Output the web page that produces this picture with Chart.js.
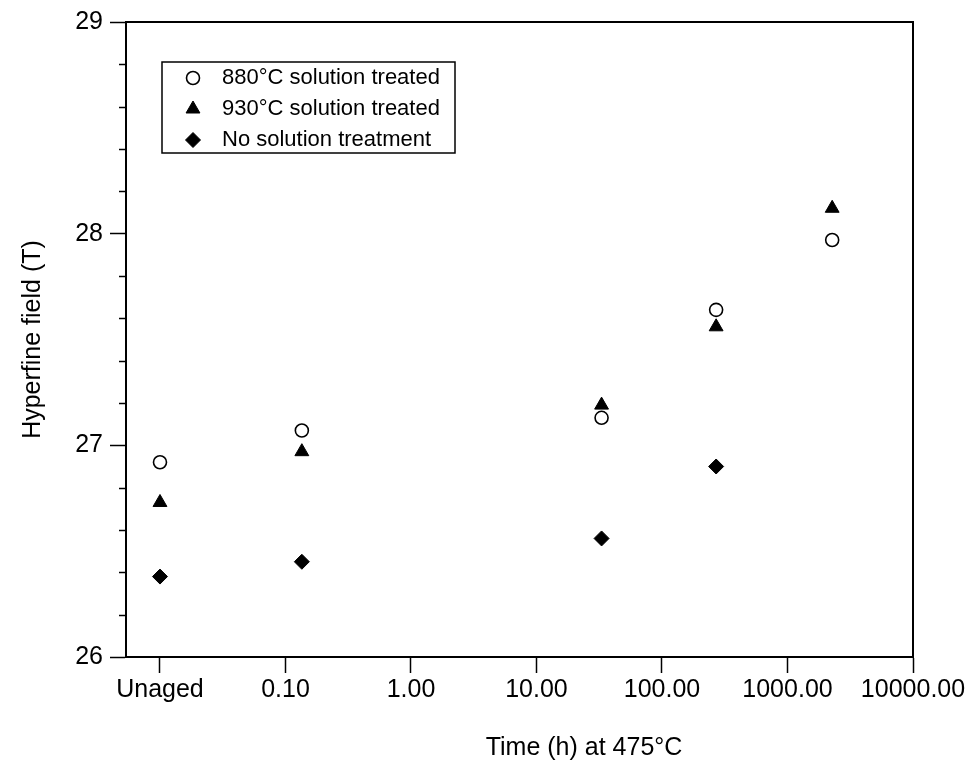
<!DOCTYPE html>
<html>
<head>
<meta charset="utf-8">
<title>Hyperfine field vs ageing time at 475°C</title>
<script src="https://cdn.jsdelivr.net/npm/chart.js@4.4.0/dist/chart.umd.min.js"></script>
<style>
  html, body { margin: 0; padding: 0; background: #fff; }
  #wrap { width: 976px; height: 777px; }
</style>
</head>
<body>
<div id="wrap"><canvas id="myChart" width="976" height="777"></canvas></div>
<script>
// "Unaged" samples sit on the first tick, which is placed at 0.01 h on the log axis
var xTickValues = [0.01, 0.1, 1, 10, 100, 1000, 10000];
var xTickLabels = ['Unaged', '0.10', '1.00', '10.00', '100.00', '1000.00', '10000.00'];

var agingTimes = [0.01, 0.135, 33, 270, 2270];
var field880 = [26.92, 27.07, 27.13, 27.64, 27.97];
var field930 = [26.73, 26.97, 27.19, 27.56, 28.12];
var fieldNoSolution = [26.38, 26.45, 26.56, 26.90];

var seriesNames = ['880°C solution treated', '930°C solution treated', 'No solution treatment'];
var xTitle = 'Time (h) at 475°C';
var yTitle = 'Hyperfine field (T)';

var yMin = 26, yMax = 29, yMinorStep = 0.2;
var xMin = 0.00536, xMax = 10000;

var ink = '#000';
var fontFamily = "'Liberation Sans', Arial, Helvetica, sans-serif";

function toPoints(xs, ys){
  var pts = [];
  for(var i = 0; i < ys.length; i++){
    pts.push({x: xs[i], y: ys[i]});
  }
  return pts;
}

/*
  box round the plot area, short minor ticks on the y axis,
  and the x title (it sits right of the axis centre in the original)
*/
var frameAndMinorTicks = {
  id: 'frameAndMinorTicks',
  afterDraw: function(chart){
    var c = chart.ctx, a = chart.chartArea, ys = chart.scales.y;
    c.save();
    c.strokeStyle = ink;
    c.lineWidth = 2;
    c.beginPath();
    c.moveTo(a.left, a.top);
    c.lineTo(a.right, a.top);
    c.lineTo(a.right, a.bottom);
    c.stroke();

    c.lineWidth = 1.5;
    for(var v = yMin + yMinorStep; v < yMax - 0.01; v += yMinorStep){
      if(Math.abs(v - Math.round(v)) < 0.01) continue;
      var py = Math.round(ys.getPixelForValue(v)) + 0.5;
      c.beginPath();
      c.moveTo(a.left - 7, py);
      c.lineTo(a.left, py);
      c.stroke();
    }

    c.fillStyle = ink;
    c.font = '25px ' + fontFamily;
    c.textAlign = 'center';
    c.textBaseline = 'middle';
    c.fillText(xTitle, a.left + 0.582 * (a.right - a.left), 748);
    c.restore();
  }
};

/*
  legend drawn in a box inside the plot, like the original figure
*/
var boxLegend = {
  id: 'boxLegend',
  afterDatasetsDraw: function(chart){
    var c = chart.ctx, a = chart.chartArea;
    var left = a.left + 36, top = a.top + 40, w = 293, h = 91;
    c.save();
    c.strokeStyle = ink;
    c.lineWidth = 1.5;
    c.strokeRect(left, top, w, h);
    c.font = '22px ' + fontFamily;
    c.textBaseline = 'middle';
    chart.data.datasets.forEach(function(ds, i){
      var cy = top + 16 + i * 31;
      c.fillStyle = ds.backgroundColor;
      c.strokeStyle = ds.borderColor;
      c.lineWidth = ds.borderWidth;
      Chart.helpers.drawPoint(c, {
        pointStyle: ds.pointStyle,
        radius: ds.pointRadius,
        borderWidth: ds.borderWidth,
        rotation: 0
      }, left + 31, cy);
      c.fillStyle = ink;
      c.fillText(ds.label, left + 60, cy);
    });
    c.restore();
  }
};

window.onload = function(){
  Chart.defaults.font.family = fontFamily;
  Chart.defaults.color = ink;

  var ctx = document.getElementById('myChart').getContext('2d');

  new Chart(ctx, {
    type: 'scatter',
    data: {
      datasets: [
        {
          label: seriesNames[0],
          data: toPoints(agingTimes, field880),
          pointStyle: 'circle',
          pointRadius: 6.5,
          backgroundColor: '#fff',
          borderColor: ink,
          borderWidth: 1.6
        },
        {
          label: seriesNames[1],
          data: toPoints(agingTimes, field930),
          pointStyle: 'triangle',
          pointRadius: 8,
          backgroundColor: ink,
          borderColor: ink,
          borderWidth: 1
        },
        {
          label: seriesNames[2],
          data: toPoints(agingTimes, fieldNoSolution),
          pointStyle: 'rectRot',
          pointRadius: 7.5,
          backgroundColor: ink,
          borderColor: ink,
          borderWidth: 1
        }
      ]
    },
    options: {
      responsive: false,
      animation: false,
      layout: { padding: { top: 22, right: 63, bottom: 0, left: 0 } },
      plugins: {
        legend: { display: false },
        tooltip: { enabled: false }
      },
      scales: {
        x: {
          type: 'logarithmic',
          min: xMin,
          max: xMax,
          afterBuildTicks: function(scale){
            scale.ticks = xTickValues.map(function(v){ return {value: v, major: true}; });
          },
          afterFit: function(scale){ scale.height = 120; },
          ticks: {
            autoSkip: false,
            maxRotation: 0,
            padding: 2,
            font: { size: 25 },
            color: ink,
            callback: function(value){
              var i = xTickValues.indexOf(value);
              return i >= 0 ? xTickLabels[i] : '';
            }
          },
          grid: {
            drawOnChartArea: false,
            drawTicks: true,
            tickLength: 16,
            tickColor: ink,
            tickWidth: 1.5
          },
          border: { color: ink, width: 2 },
          title: { display: false }
        },
        y: {
          min: yMin,
          max: yMax,
          afterFit: function(scale){ scale.width = 126; },
          ticks: {
            stepSize: 1,
            padding: 7,
            font: { size: 25 },
            color: ink
          },
          grid: {
            drawOnChartArea: false,
            drawTicks: true,
            tickLength: 16,
            tickColor: ink,
            tickWidth: 1.5
          },
          border: { color: ink, width: 2 },
          title: {
            display: true,
            text: yTitle,
            font: { size: 25 },
            color: ink,
            padding: { top: 18, bottom: 0 }
          }
        }
      }
    },
    plugins: [frameAndMinorTicks, boxLegend]
  });
};
</script>
</body>
</html>
